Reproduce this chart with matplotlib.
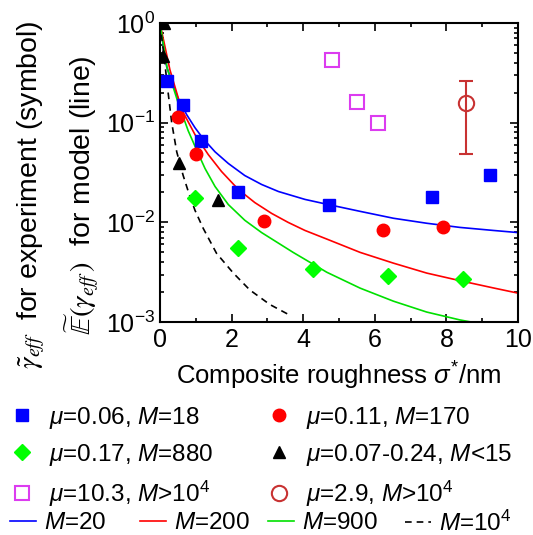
import numpy as np
import matplotlib.pyplot as plt
from matplotlib.ticker import MultipleLocator, LogLocator

plt.rcParams['font.family'] = ['Liberation Sans', 'DejaVu Sans']
plt.rcParams['mathtext.fontset'] = 'custom'
plt.rcParams['mathtext.rm'] = 'Liberation Sans'
plt.rcParams['mathtext.it'] = 'Liberation Sans:italic'

# experiment (symbols)
sq_x = [0.19, 0.65, 1.16, 2.17, 4.72, 7.59, 9.22]
sq_y = [0.26, 0.15, 0.065, 0.020, 0.015, 0.018, 0.030]
ci_x = [0.51, 1.00, 2.90, 6.22, 7.89]
ci_y = [0.115, 0.049, 0.0104, 0.0083, 0.0089]
di_x = [0.98, 2.19, 4.28, 6.36, 8.45]
di_y = [0.0174, 0.0055, 0.0034, 0.0029, 0.0027]
tr_x = [0.12, 0.08, 0.54, 1.61]
tr_y = [1.0, 0.47, 0.039, 0.0166]
osq_x = [4.81, 5.49, 6.08]
osq_y = [0.43, 0.162, 0.100]
oc_x = [8.55]
oc_y = [0.157]
oc_lo = [0.049]
oc_hi = [0.264]

# model (lines)
m20_x = [0, 0.19, 0.51, 0.75, 0.98, 1.21, 1.54, 1.91, 2.37, 2.84, 3.31, 4.05, 4.70, 5.59, 6.52, 7.45, 8.38,
         9.31, 10]
m20_y = [1.0, 0.363, 0.174, 0.120, 0.089, 0.069, 0.051, 0.039, 0.0295, 0.024, 0.0204, 0.0170, 0.0151, 0.0129,
         0.011, 0.0098, 0.0089, 0.0083, 0.0079]
m200_x = [0, 0.28, 0.61, 0.98, 1.35, 1.72, 2.19, 2.65, 3.12, 3.58, 4.05, 4.66, 5.59, 6.52, 7.45, 8.38, 9.31, 10]
m200_y = [1.0, 0.339, 0.135, 0.0759, 0.0479, 0.0324, 0.0214, 0.0158, 0.0123, 0.0100, 0.0083, 0.0068, 0.0050,
          0.0039, 0.0031, 0.0026, 0.0022, 0.00195]
m900_x = [0, 0.2, 0.51, 0.79, 1.07, 1.26, 1.54, 1.91, 2.37, 2.84, 3.72, 4.66, 5.59, 6.52, 7.45, 8.38, 8.7]
m900_y = [1.0, 0.355, 0.158, 0.083, 0.049, 0.0347, 0.0229, 0.0151, 0.0105, 0.0079, 0.0050, 0.00316, 0.00219,
          0.00162, 0.00126, 0.00105, 0.001]
m1e4_x = [0, 0.12, 0.23, 0.33, 0.47, 0.65, 0.80, 0.98, 1.21, 1.58, 2.05, 2.51, 3.07, 3.67]
m1e4_y = [1.0, 0.45, 0.2, 0.1, 0.051, 0.0295, 0.020, 0.0132, 0.0087, 0.0049, 0.0031, 0.0021, 0.0015, 0.00115]

fig = plt.figure(figsize=(5.33, 5.35), dpi=100)
ax = fig.add_axes([0.300, 0.398, 0.672, 0.559])

l1, = ax.plot(m20_x, m20_y, color='#0000FF', lw=1.2, label='$M$=20')
l2, = ax.plot(m200_x, m200_y, color='#FF0000', lw=1.2, label='$M$=200')
l3, = ax.plot(m900_x, m900_y, color='#00E000', lw=1.2, label='$M$=900')
l4, = ax.plot(m1e4_x, m1e4_y, color='black', lw=1.2, ls=(0, (4, 3)), label='$M$=10$^4$')

p1, = ax.plot(sq_x, sq_y, 's', color='#0000FF', ms=8, label='$\\mu$=0.06, $M$=18')
p2, = ax.plot(ci_x, ci_y, 'o', color='#FF0000', ms=9, label='$\\mu$=0.11, $M$=170')
p3, = ax.plot(di_x, di_y, 'D', color='#00FF00', ms=8, label='$\\mu$=0.17, $M$=880')
p4, = ax.plot(tr_x, tr_y, '^', color='black', ms=9, label='$\\mu$=0.07-0.24, $M$<15')
p5, = ax.plot(osq_x, osq_y, 's', mfc='none', mec='#DC3CF0', mew=1.5, ms=10, label='$\\mu$=10.3, $M$>10$^4$')
yerr = [np.array(oc_y) - np.array(oc_lo), np.array(oc_hi) - np.array(oc_y)]
eb = ax.errorbar(oc_x, oc_y, yerr=yerr, fmt='o', mfc='none', mec='#C83232', ecolor='#C83232',
                 mew=1.5, ms=11, elinewidth=1.5, capsize=5, capthick=1.5)
p6 = eb[0]

ax.set_yscale('log')
ax.set_xlim(0, 10)
ax.set_ylim(1e-3, 1)
ax.xaxis.set_major_locator(MultipleLocator(2))
ax.xaxis.set_minor_locator(MultipleLocator(1))
ax.yaxis.set_minor_locator(LogLocator(subs=np.arange(2, 10)))
ax.tick_params(which='both', direction='in', top=True, right=True, width=1.2, labelsize=18)
ax.tick_params(which='major', length=6)
ax.tick_params(which='minor', length=3)
ax.tick_params(axis='x', pad=4)
for s in ax.spines.values():
    s.set_linewidth(1.5)

ax.set_xlabel('Composite roughness $\\sigma^{*}$/nm', fontsize=18.5, labelpad=6)

fig.text(0.058, 0.636, '$\\tilde{\\gamma}_{eff}$  for experiment (symbol)', rotation=90,
         ha='center', va='center', fontsize=20.5, math_fontfamily='stix')
fig.text(0.155, 0.636, '$\\widetilde{\\mathbb{E}}(\\gamma_{eff}\\,)$  for model (line)', rotation=90,
         ha='center', va='center', fontsize=20.5, math_fontfamily='stix')

fig.legend([p1, p3, p5, p2, p4, p6], [p1.get_label(), p3.get_label(), p5.get_label(),
                                       p2.get_label(), p4.get_label(), '$\\mu$=2.9, $M$>10$^4$'],
           ncol=2, loc='upper left', bbox_to_anchor=(10 / 533, 1 - 405 / 535), frameon=False,
           borderpad=0, borderaxespad=0, handlelength=1.0, handletextpad=0.6, columnspacing=2.2,
           labelspacing=0.45, fontsize=17.5)

for h, x0 in zip([l1, l2, l3, l4], [10, 140, 268, 405]):
    fig.legend([h], [h.get_label()], loc='center left', bbox_to_anchor=(x0 / 533, 1 - 523 / 535),
               frameon=False, borderpad=0, borderaxespad=0, handlelength=1.06, handletextpad=0.35,
               fontsize=17.5)

fig.savefig('out.png', dpi=100)
